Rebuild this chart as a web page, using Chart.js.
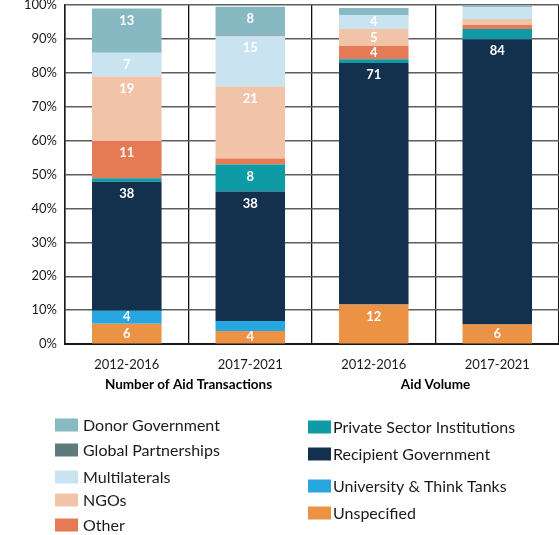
<!DOCTYPE html>
<html>
<head>
<meta charset="utf-8">
<script src="https://cdn.jsdelivr.net/npm/chart.js@4.4.1/dist/chart.umd.min.js"></script>
<style>
  html, body { margin: 0; padding: 0; background: #ffffff; }
  #wrap { width: 559px; height: 535px; }
</style>
</head>
<body>
<div id="wrap"><canvas id="c" width="559" height="535"></canvas></div>
<script>
// ---- data ----
const categories = ["2012-2016", "2017-2021", "2012-2016", "2017-2021"];
const groups = ["Number of Aid Transactions", "Aid Volume"];
const yTicks = [0, 10, 20, 30, 40, 50, 60, 70, 80, 90, 100];

const seriesNames = [
  "Unspecified", "University & Think Tanks", "Recipient Government",
  "Private Sector Institutions", "Other", "NGOs", "Multilaterals",
  "Global Partnerships", "Donor Government"
];
const unspecified   = [6.0, 3.9, 11.7, 5.8];
const university    = [3.8, 2.9, 0, 0];
const recipient     = [38.1, 38.2, 71.2, 84.1];
const privateSector = [1.0, 8.0, 1.1, 3.0];
const other         = [11.0, 1.7, 3.9, 1.2];
const ngos          = [19.0, 21.3, 5.0, 1.8];
const multilaterals = [7.0, 14.9, 4.1, 3.4];
const globalPartner = [0, 0.3, 0, 0];
const donor         = [13.1, 8.3, 2.1, 0.5];

const seriesValues = [unspecified, university, recipient, privateSector, other, ngos, multilaterals, globalPartner, donor];
const seriesColors = ["#EB9245", "#26A7E0", "#14304F", "#0F9BA5", "#E57B56", "#F1C3A9", "#C9E3F1", "#5B7C7A", "#86B9C2"];

const FONT = "Lato, 'Open Sans', sans-serif";

// legend layout (style only)
const legendLeft  = ["Donor Government", "Global Partnerships", "Multilaterals", "NGOs", "Other"];
const legendRight = ["Private Sector Institutions", "Recipient Government", "University & Think Tanks", "Unspecified"];
const legendLeftY  = [425, 450, 477, 500, 525];
const legendRightY = [427, 454, 486, 513];

const datasets = seriesNames.map((n, i) => ({
  label: n,
  data: seriesValues[i],
  backgroundColor: seriesColors[i],
  borderWidth: 0,
  categoryPercentage: 1.0,
  barPercentage: 0.563
}));

const labelPlugin = {
  id: 'segLabels',
  afterDatasetsDraw(chart) {
    const ctx = chart.ctx;
    ctx.save();
    ctx.fillStyle = '#ffffff';
    ctx.font = "bold 13px " + FONT;
    ctx.textAlign = 'center';
    ctx.textBaseline = 'middle';
    chart.data.datasets.forEach((ds, di) => {
      const meta = chart.getDatasetMeta(di);
      meta.data.forEach((bar, i) => {
        const v = ds.data[i];
        if (v < 3.5) return;
        const top = Math.min(bar.y, bar.base);
        const bot = Math.max(bar.y, bar.base);
        const center = (top + bot) / 2;
        const y = Math.min(top + 12, center);
        ctx.fillText(String(Math.round(v)), bar.x, y);
      });
    });
    ctx.restore();
  }
};

const legendPlugin = {
  id: 'colLegend',
  afterDraw(chart) {
    const ctx = chart.ctx;
    ctx.save();
    ctx.font = "16px " + FONT;
    ctx.textBaseline = 'middle';
    ctx.textAlign = 'left';
    const drawCol = (names, ys, x, gap) => {
      names.forEach((n, k) => {
        const di = chart.data.datasets.findIndex(d => d.label === n);
        const ds = chart.data.datasets[di];
        ctx.fillStyle = ds.backgroundColor;
        ctx.fillRect(x, ys[k] - 6.5, 23, 13);
        ctx.fillStyle = '#1a1a1a';
        ctx.fillText(n, x + 23 + gap, ys[k] + 1);
      });
    };
    drawCol(legendLeft, legendLeftY, 55, 5);
    drawCol(legendRight, legendRightY, 308, 2);
    ctx.restore();
  }
};

new Chart(document.getElementById('c'), {
  type: 'bar',
  data: { labels: categories, datasets },
  options: {
    responsive: false,
    animation: false,
    layout: { padding: { left: 16, right: 0, top: 5, bottom: 140 } },
    plugins: { legend: { display: false }, tooltip: { enabled: false } },
    scales: {
      x: {
        stacked: true,
        afterFit(axis) { axis.height = 30.7; },
        grid: { display: true, offset: true, color: '#111111', lineWidth: 1.3, drawTicks: false },
        border: { display: true, color: '#1a1a1a', width: 2 },
        ticks: { color: '#1a1a1a', font: { family: FONT, size: 13 }, padding: 13 }
      },
      x2: {
        type: 'category',
        labels: groups,
        position: 'bottom',
        grid: { display: false, drawTicks: false },
        border: { display: false },
        ticks: { color: '#000000', font: { family: FONT, size: 13.5, weight: 'bold' }, padding: 2 }
      },
      y: {
        stacked: true,
        min: 0, max: 100,
        afterBuildTicks(axis) { axis.ticks = yTicks.map(v => ({ value: v })); },
        afterFit(axis) { axis.paddingTop = 0; axis.paddingBottom = 0; },
        grid: { color: '#5e5e5e', lineWidth: 1.4, drawTicks: false },
        border: { display: true, color: '#1a1a1a', width: 1.5 },
        ticks: { color: '#1a1a1a', font: { family: FONT, size: 13 }, padding: 8, callback: v => v + '%' }
      }
    }
  },
  plugins: [labelPlugin, legendPlugin]
});
</script>
</body>
</html>
